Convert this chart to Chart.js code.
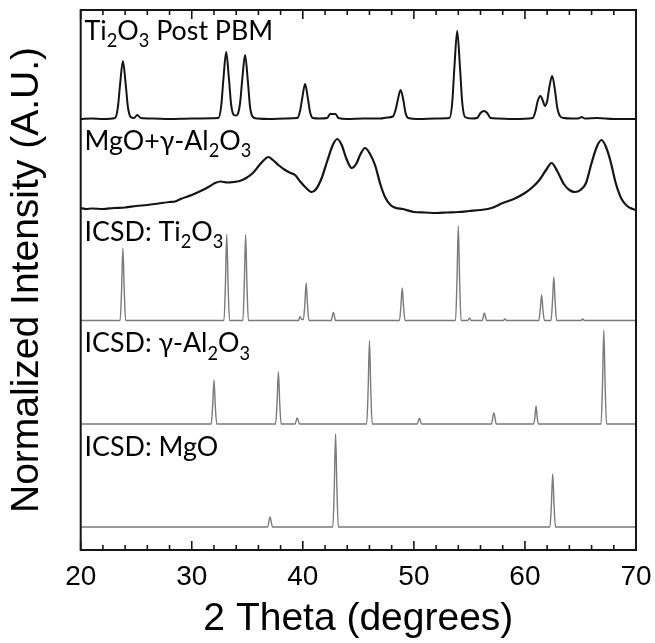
<!DOCTYPE html>
<html>
<head>
<meta charset="utf-8">
<script src="https://cdn.jsdelivr.net/npm/chart.js@4.4.1/dist/chart.umd.min.js"></script>
<style>
  html, body { margin: 0; padding: 0; background: #ffffff; }
  canvas { display: block; }
</style>
</head>
<body>
<canvas id="xrd" width="655" height="643"></canvas>
<script>
// 2θ values that carry a printed label on the bottom axis
const thetaTickLabels = [20, 30, 40, 50, 60, 70];

// Pattern names, top to bottom ('_' marks a one-character subscript)
const patternNames = [
  'Ti_2O_3 Post PBM',
  'MgO+\u03b3-Al_2O_3',
  'ICSD: Ti_2O_3',
  'ICSD: \u03b3-Al_2O_3',
  'ICSD: MgO'
];

// Measured pattern of the milled Ti2O3 powder: [2θ, intensity]
const postPbm = [
  [20, 0], [21, 0.5], [22, 0], [23.1, 1], [23.35, 12], [23.55, 35], [23.8, 58], [24.05, 35],
  [24.25, 12], [24.5, 2], [24.8, 1], [25.1, 4], [25.4, 1], [26.5, 0.5], [28, 0], [30, 0.5],
  [32.4, 1], [32.65, 13], [32.85, 40], [33.1, 67], [33.35, 40], [33.55, 14], [33.8, 4],
  [34.0, 3.5], [34.15, 5], [34.35, 16], [34.55, 40], [34.8, 64], [35.05, 38], [35.25, 12],
  [35.5, 2], [35.9, 0.5], [37, 0], [38.5, 0.5], [39.5, 1], [39.75, 8], [39.95, 21], [40.2, 35],
  [40.45, 21], [40.65, 7], [40.9, 1], [41.5, 0.5], [42.2, 1], [42.45, 5], [42.95, 5], [43.2, 1],
  [44, 0], [45.5, 0.5], [47, 0.5], [47.6, 1.5], [48.1, 2.5], [48.35, 9], [48.55, 19], [48.8, 29],
  [49.05, 19], [49.25, 6], [49.5, 1], [50.5, 0], [52, 0.5], [53.2, 1], [53.45, 16], [53.65, 52],
  [53.9, 88], [54.15, 52], [54.35, 17], [54.6, 2], [55.2, 0.5], [55.7, 1], [56.0, 6], [56.3, 8],
  [56.6, 6], [56.9, 1], [57.5, 0.5], [59, 0], [60.7, 1], [60.95, 8], [61.15, 18], [61.4, 23],
  [61.62, 18], [61.8, 13], [62.0, 18], [62.2, 32], [62.45, 43], [62.7, 29], [62.9, 12],
  [63.15, 3], [63.5, 1], [64.2, 0.5], [64.8, 0.5], [65.1, 2], [65.4, 0.5], [66.5, 1], [68, 0], [70, 0]
];

// Measured pattern of the MgO + γ-Al2O3 media: [2θ, intensity]
const mediaMix = [
  [20, 3], [20.5, 2], [21, 2.5], [22, 2], [23, 3], [24, 3.5], [25, 5], [26, 6], [27, 7.5],
  [28, 9], [28.5, 9.5], [29, 12], [30, 16], [30.8, 20], [31.5, 24], [32.1, 28], [32.6, 29.5],
  [33.2, 28.5], [33.8, 29], [34.3, 30], [34.9, 33], [35.5, 38], [36.1, 46], [36.6, 52],
  [36.9, 54], [37.3, 51], [37.8, 46], [38.4, 41], [38.9, 38], [39.3, 36], [39.8, 29],
  [40.3, 23], [40.8, 19], [41.2, 22], [41.7, 33], [42.2, 50], [42.7, 66], [43.1, 72],
  [43.5, 66], [43.9, 53], [44.4, 43], [44.8, 47], [45.2, 57], [45.6, 63], [46.0, 58],
  [46.5, 46], [47.0, 26], [47.4, 14], [47.9, 6], [48.4, 3], [49, 2], [50, -1], [51, -1.5],
  [52, -2], [53, -1.5], [54, -1], [55, 0], [56, 1], [57, 3], [58, 8], [59, 12], [60, 18],
  [60.7, 24], [61.3, 31], [61.9, 41], [62.4, 48], [62.9, 40], [63.5, 27], [64.0, 21],
  [64.5, 19], [65.0, 21], [65.5, 28], [66.0, 48], [66.5, 65], [66.9, 71], [67.3, 64],
  [67.7, 50], [68.2, 27], [68.7, 12], [69.2, 5], [69.7, 2], [70, 1]
];

// Reference pattern, Ti2O3 (ICSD): [2θ, intensity]
const icsdTi2O3 = [
  [20, 0], [23.55, 0], [23.68, 30], [23.8, 72.5], [23.92, 30], [24.05, 0],
  [32.9, 0], [33.03, 36], [33.15, 86], [33.27, 36], [33.4, 0],
  [34.6, 0], [34.73, 36], [34.85, 86], [34.97, 36], [35.1, 0],
  [39.6, 0], [39.75, 4], [39.9, 1], [40.05, 1], [40.18, 16], [40.3, 37.5], [40.42, 16], [40.55, 0],
  [42.55, 0], [42.75, 8], [42.95, 0],
  [48.7, 0], [48.83, 14], [48.95, 32.5], [49.07, 14], [49.2, 0],
  [53.75, 0], [53.88, 40], [54.0, 94.5], [54.12, 40], [54.25, 0],
  [54.85, 0], [55.0, 2.5], [55.15, 0],
  [56.15, 0], [56.35, 7.5], [56.55, 0],
  [58.05, 0], [58.2, 1.5], [58.35, 0],
  [61.25, 0], [61.38, 11], [61.5, 25.5], [61.62, 11], [61.75, 0],
  [62.35, 0], [62.48, 19], [62.6, 43.5], [62.72, 19], [62.85, 0],
  [65.05, 0], [65.2, 1.5], [65.35, 0], [70, 0]
];

// Reference pattern, γ-Al2O3 (ICSD): [2θ, intensity]
const icsdAl2O3 = [
  [20, 0], [31.75, 0], [31.88, 18], [32.0, 44], [32.12, 18], [32.25, 0],
  [37.55, 0], [37.68, 21], [37.8, 52], [37.92, 21], [38.05, 0],
  [39.3, 0], [39.5, 6.3], [39.7, 0],
  [45.75, 0], [45.88, 34], [46.0, 83], [46.12, 34], [46.25, 0],
  [50.3, 0], [50.5, 5.7], [50.7, 0],
  [56.98, 0], [57.2, 11.3], [57.42, 0],
  [60.78, 0], [60.89, 6], [61.0, 18], [61.11, 6], [61.22, 0],
  [66.85, 0], [66.98, 38], [67.1, 94], [67.22, 38], [67.35, 0], [70, 0]
];

// Reference pattern, MgO (ICSD): [2θ, intensity]
const icsdMgO = [
  [20, 0], [36.83, 0], [37.05, 10], [37.27, 0],
  [42.7, 0], [42.83, 38], [42.95, 93], [43.07, 38], [43.2, 0],
  [62.25, 0], [62.38, 22], [62.5, 53], [62.62, 22], [62.75, 0], [70, 0]
];

// Vertical stacking offset of each pattern and the height of its name
const stackOffsets = [431, 339, 229.5, 126, 23];
const nameBaselines = [510, 400, 309.5, 197.7, 94];
const nameTheta = 20.35;

const patterns = [postPbm, mediaMix, icsdTi2O3, icsdAl2O3, icsdMgO];
const lineColors = ['#141414', '#141414', '#7a7a7a', '#7a7a7a', '#7a7a7a'];
const lineWidths = [2.0, 2.2, 1.4, 1.4, 1.4];

const datasets = patterns.map((pts, i) => ({
  label: patternNames[i].replace(/_/g, ''),
  data: pts.map(([t, v]) => ({ x: t, y: v + stackOffsets[i] })),
  borderColor: lineColors[i],
  borderWidth: lineWidths[i],
  pointRadius: 0,
  fill: false,
  cubicInterpolationMode: 'monotone'
}));

// Draws a name, lowering and shrinking each character that follows '_'
function drawName(ctx, text, x, y, size) {
  const runs = [];
  for (let i = 0; i < text.length; i++) {
    if (text[i] === '_') { runs.push({ s: text[i + 1], sub: true }); i++; }
    else if (runs.length && !runs[runs.length - 1].sub) runs[runs.length - 1].s += text[i];
    else runs.push({ s: text[i], sub: false });
  }
  let cx = x;
  ctx.textBaseline = 'alphabetic';
  ctx.textAlign = 'left';
  for (const r of runs) {
    const fs = r.sub ? size * 0.68 : size;
    ctx.font = `${fs}px Lato`;
    ctx.fillText(r.s, cx, r.sub ? y + size * 0.27 : y);
    cx += ctx.measureText(r.s).width;
  }
}

// Frame, inward tick marks on top and bottom edges, and pattern names
const framePlugin = {
  id: 'framePlugin',
  afterDatasetsDraw(chart) {
    const { ctx, chartArea: a, scales: { x, y } } = chart;
    ctx.save();
    ctx.strokeStyle = '#161616';
    ctx.lineWidth = 1.6;
    ctx.beginPath();
    for (const tk of x.ticks) {
      const px = x.getPixelForValue(tk.value);
      const len = tk.value % 10 === 0 ? 9 : 5;
      ctx.moveTo(px, a.bottom);
      ctx.lineTo(px, a.bottom - len);
      ctx.moveTo(px, a.top);
      ctx.lineTo(px, a.top + len);
    }
    ctx.stroke();
    ctx.lineWidth = 2;
    ctx.strokeRect(a.left, a.top, a.right - a.left, a.bottom - a.top);
    ctx.fillStyle = '#000000';
    patternNames.forEach((name, i) => {
      drawName(ctx, name, x.getPixelForValue(nameTheta), y.getPixelForValue(nameBaselines[i]), 26.8);
    });
    ctx.restore();
  }
};

new Chart(document.getElementById('xrd'), {
  type: 'line',
  data: { datasets },
  options: {
    responsive: false,
    animation: false,
    events: [],
    layout: { padding: { top: 10, right: 19, left: 0, bottom: 0 } },
    plugins: { legend: { display: false }, tooltip: { enabled: false } },
    scales: {
      x: {
        type: 'linear',
        min: 20,
        max: 70,
        grid: { display: false, drawTicks: false },
        border: { display: false },
        ticks: {
          stepSize: 2,
          autoSkip: false,
          maxRotation: 0,
          padding: 10,
          color: '#000000',
          font: { family: 'Liberation Sans', size: 28 },
          callback: (v) => (thetaTickLabels.includes(v) ? String(v) : '')
        },
        title: {
          display: true,
          text: '2 Theta (degrees)',
          color: '#000000',
          font: { family: 'Liberation Sans', size: 39 },
          padding: { top: 0, bottom: 0.6 }
        },
        afterFit: (s) => { s.height = 93; s.paddingLeft = 0; s.paddingRight = 0; }
      },
      y: {
        min: 0,
        max: 540,
        grid: { display: false, drawTicks: false },
        border: { display: false },
        ticks: { display: false },
        title: {
          display: true,
          text: 'Normalized Intensity (A.U.)',
          color: '#000000',
          font: { family: 'Liberation Sans', size: 39 },
          padding: { top: 3.9, bottom: 0 }
        },
        afterFit: (s) => { s.width = 80.7; }
      }
    }
  },
  plugins: [framePlugin]
});
</script>
</body>
</html>
